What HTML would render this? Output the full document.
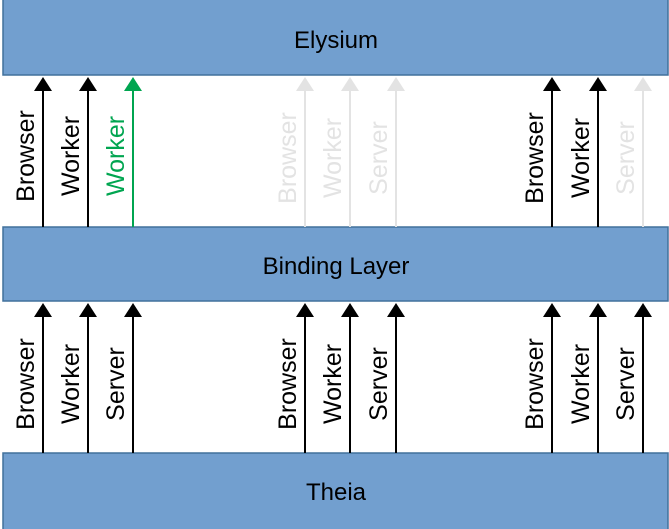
<!DOCTYPE html>
<html><head><style>html,body{margin:0;padding:0;background:#fff;}svg{display:block}</style></head>
<body>
<svg width="669" height="529" xmlns="http://www.w3.org/2000/svg" font-family="Liberation Sans, sans-serif">
<g fill="#729fcf" stroke="#41719c" stroke-width="1.5">
<rect x="3" y="-2" width="665" height="77"/>
<rect x="3" y="227" width="665" height="74"/>
<rect x="3" y="453" width="665" height="80"/>
</g>
<g font-size="24" text-anchor="middle" fill="#000">
<text x="336" y="48">Elysium</text>
<text x="336" y="274">Binding Layer</text>
<text x="336" y="500">Theia</text>
</g>
<g font-size="25" text-anchor="middle">
<g stroke-width="2">
<line x1="43" y1="227" x2="43" y2="88" stroke="#000"/>
<line x1="88" y1="227" x2="88" y2="88" stroke="#000"/>
<line x1="133" y1="227" x2="133" y2="88" stroke="#00a550"/>
<line x1="305" y1="227" x2="305" y2="88" stroke="#e3e3e3"/>
<line x1="350" y1="227" x2="350" y2="88" stroke="#e3e3e3"/>
<line x1="396" y1="227" x2="396" y2="88" stroke="#e3e3e3"/>
<line x1="552" y1="227" x2="552" y2="88" stroke="#000"/>
<line x1="598" y1="227" x2="598" y2="88" stroke="#000"/>
<line x1="643" y1="227" x2="643" y2="88" stroke="#e3e3e3"/>
</g>
<polygon points="34,91 52,91 43,77" fill="#000"/>
<polygon points="79,91 97,91 88,77" fill="#000"/>
<polygon points="124,91 142,91 133,77" fill="#00a550"/>
<polygon points="296,91 314,91 305,77" fill="#e3e3e3"/>
<polygon points="341,91 359,91 350,77" fill="#e3e3e3"/>
<polygon points="387,91 405,91 396,77" fill="#e3e3e3"/>
<polygon points="543,91 561,91 552,77" fill="#000"/>
<polygon points="589,91 607,91 598,77" fill="#000"/>
<polygon points="634,91 652,91 643,77" fill="#e3e3e3"/>
<text transform="translate(34,156) rotate(-90)" fill="#000">Browser</text>
<text transform="translate(79,156) rotate(-90)" fill="#000">Worker</text>
<text transform="translate(124,156) rotate(-90)" fill="#00a550">Worker</text>
<text transform="translate(296,158) rotate(-90)" fill="#e3e3e3">Browser</text>
<text transform="translate(341,158) rotate(-90)" fill="#e3e3e3">Worker</text>
<text transform="translate(387,158) rotate(-90)" fill="#e3e3e3">Server</text>
<text transform="translate(543,158) rotate(-90)" fill="#000">Browser</text>
<text transform="translate(589,158) rotate(-90)" fill="#000">Worker</text>
<text transform="translate(634,158) rotate(-90)" fill="#e3e3e3">Server</text>
<g stroke-width="2" stroke="#000">
<line x1="43" y1="453" x2="43" y2="315"/>
<line x1="88" y1="453" x2="88" y2="315"/>
<line x1="133" y1="453" x2="133" y2="315"/>
<line x1="305" y1="453" x2="305" y2="315"/>
<line x1="350" y1="453" x2="350" y2="315"/>
<line x1="396" y1="453" x2="396" y2="315"/>
<line x1="552" y1="453" x2="552" y2="315"/>
<line x1="598" y1="453" x2="598" y2="315"/>
<line x1="643" y1="453" x2="643" y2="315"/>
</g>
<g fill="#000">
<polygon points="34,317 52,317 43,303"/>
<polygon points="79,317 97,317 88,303"/>
<polygon points="124,317 142,317 133,303"/>
<polygon points="296,317 314,317 305,303"/>
<polygon points="341,317 359,317 350,303"/>
<polygon points="387,317 405,317 396,303"/>
<polygon points="543,317 561,317 552,303"/>
<polygon points="589,317 607,317 598,303"/>
<polygon points="634,317 652,317 643,303"/>
<text transform="translate(34,384) rotate(-90)">Browser</text>
<text transform="translate(79,384) rotate(-90)">Worker</text>
<text transform="translate(124,384) rotate(-90)">Server</text>
<text transform="translate(296,384) rotate(-90)">Browser</text>
<text transform="translate(341,384) rotate(-90)">Worker</text>
<text transform="translate(387,384) rotate(-90)">Server</text>
<text transform="translate(543,384) rotate(-90)">Browser</text>
<text transform="translate(589,384) rotate(-90)">Worker</text>
<text transform="translate(634,384) rotate(-90)">Server</text>
</g>
</g>
</svg>
</body></html>
